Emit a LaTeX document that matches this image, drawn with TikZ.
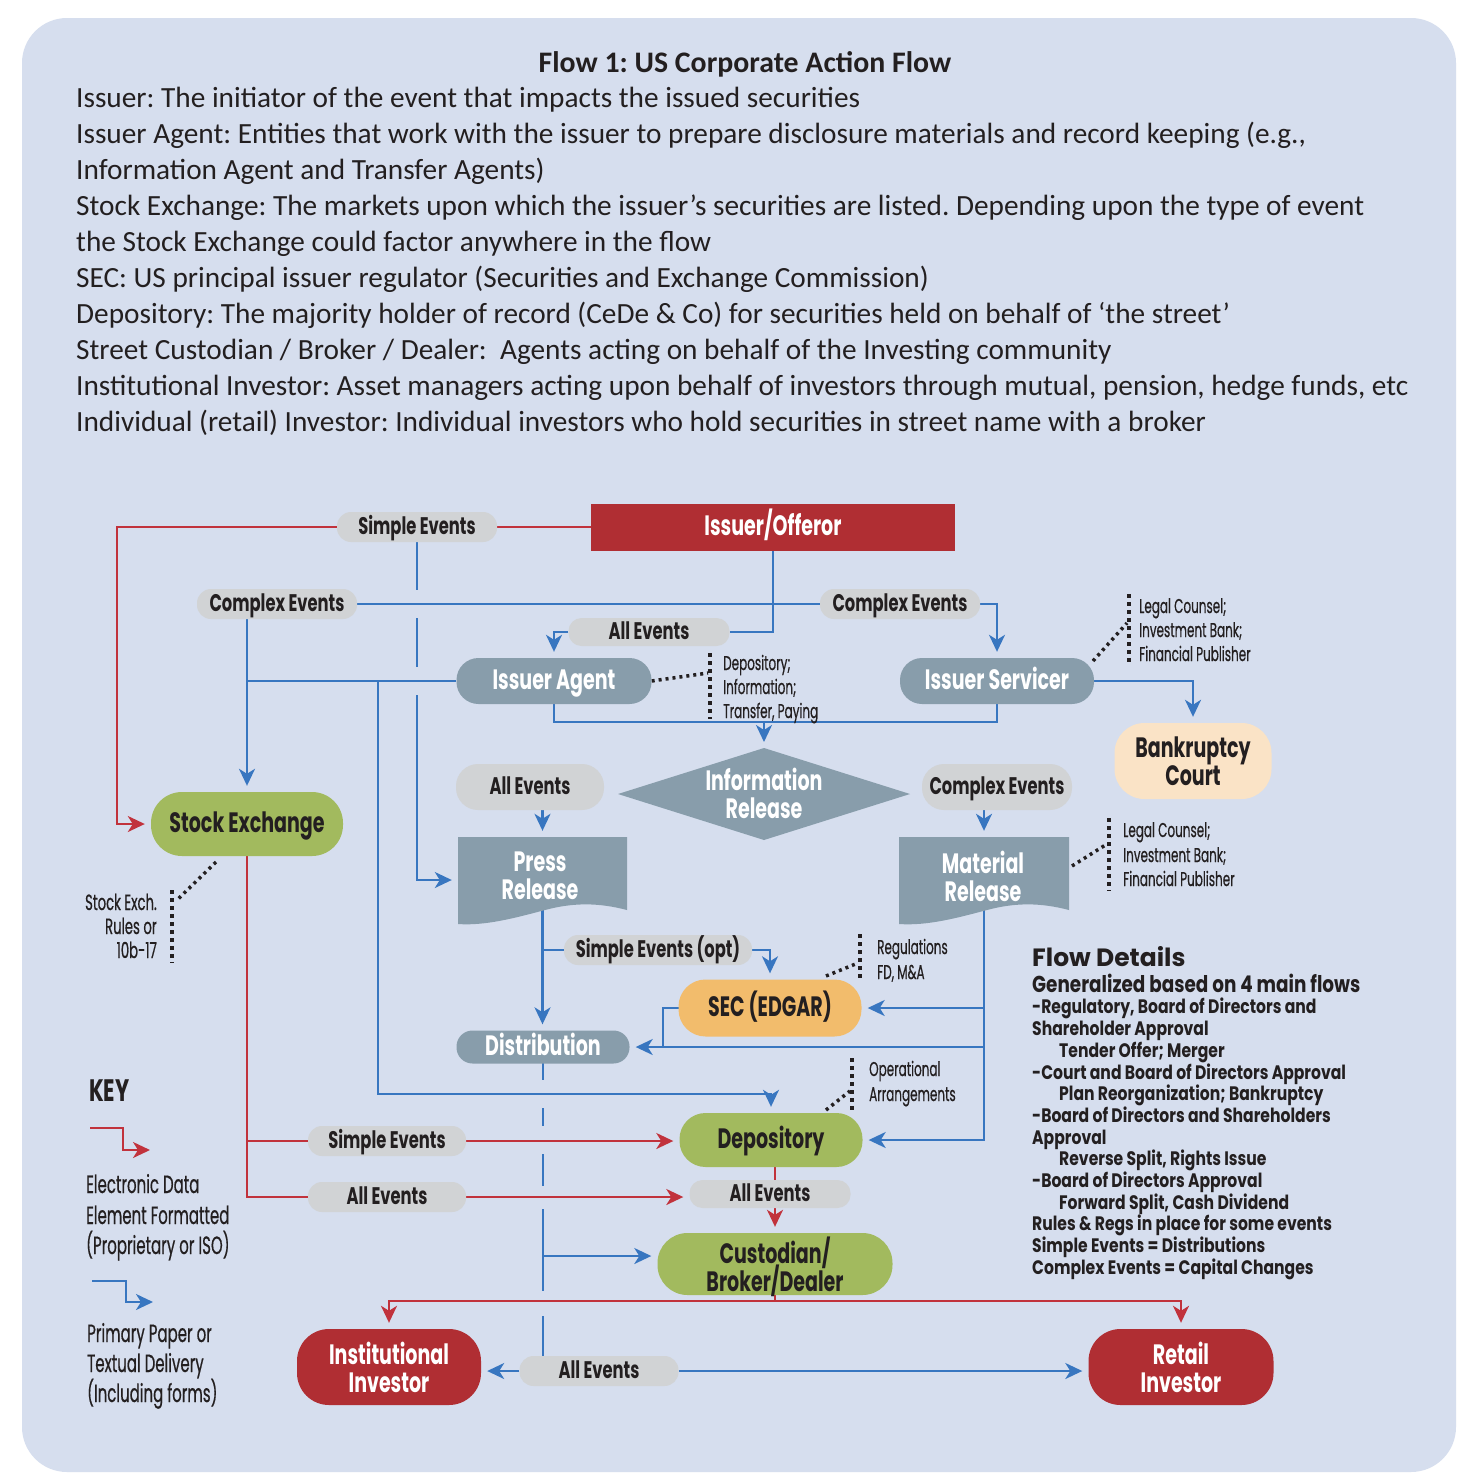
\documentclass[tikz,border=0pt]{standalone}
\usepackage{fontspec}
\setmainfont{Carlito}
\newfontfamily\condfont[FakeStretch=0.68]{Poppins}
\newfontfamily\narrowfont[FakeStretch=0.6,FakeBold=0.5]{Poppins}
\newfontfamily\detfont[FakeStretch=0.8]{Poppins}
\newfontfamily\popfont{Poppins}
\usetikzlibrary{arrows.meta,calc}
\definecolor{bgcol}{HTML}{D6DEEE}
\definecolor{issred}{HTML}{B02E33}
\definecolor{redln}{HTML}{C1323C}
\definecolor{blueln}{HTML}{3876C0}
\definecolor{pillgray}{HTML}{D1D3D5}
\definecolor{slate}{HTML}{889DAB}
\definecolor{grn}{HTML}{A2BA5E}
\definecolor{orng}{HTML}{F2BC6C}
\definecolor{peach}{HTML}{FAE3C6}
\definecolor{ink}{HTML}{231F20}
\pgfdeclarelayer{back}
\pgfdeclarelayer{lines}
\pgfsetlayers{back,lines,main}
\tikzset{
  pl/.style n args={3}{rectangle, inner sep=0pt, minimum width=#1, minimum height=#2, rounded corners=#3},
  evt/.style={fill=pillgray, text=ink, text height=18pt, text depth=3.6pt, font=\condfont\bfseries\fontsize{24}{24}\selectfont},
  big/.style={align=center, text depth=0pt, font=\condfont\bfseries\fontsize{28}{28}\selectfont},
  one/.style={text height=21pt, text depth=4.2pt},
  wt/.style={big, text=white},
  bk/.style={big, text=ink},
  note/.style={anchor=base west, inner sep=0pt, font=\narrowfont\fontsize{20}{24}\selectfont, text=ink},
  keytx/.style={anchor=base west, inner sep=0pt, font=\narrowfont\fontsize{25}{30}\selectfont, text=ink},
  hdr/.style={anchor=base west, inner sep=0pt, font=\fontsize{29.3}{29.3}\selectfont, text=ink},
  det/.style={anchor=base west, inner sep=0pt, font=\detfont\bfseries\fontsize{19.5}{20}\selectfont, text=ink},
  bl/.style={draw=blueln, line width=2.3pt},
  rl/.style={draw=redln, line width=2.3pt},
  tip/.style={-{Stealth[length=17pt,width=16pt,inset=5pt]}, shorten >=6pt},
  dots/.style={draw=ink, line width=4pt, dash pattern=on 4pt off 4pt},
  ddots/.style={draw=ink, line width=3.5pt, dash pattern=on 3pt off 4pt},
  mask/.style={draw=bgcol, line width=9pt},
}
\begin{document}
\frenchspacing
\begin{tikzpicture}[x=1pt,y=-1pt]
\useasboundingbox (0,0) rectangle (1470,1484);
\begin{pgfonlayer}{back}
\fill[white] (0,0) rectangle (1470,1484);
\fill[bgcol, rounded corners=45pt] (22,18) rectangle (1456,1472);
\end{pgfonlayer}

% ---------- header text ----------
\node[anchor=base, inner sep=0pt, font=\bfseries\fontsize{29.8}{29.8}\selectfont, text=ink] (title) at (745,72) {Flow 1: US Corporate Action Flow};
\node[hdr] (h1) at (76,107) {Issuer: The initiator of the event that impacts the issued securities};
\node[hdr] (h2) at (76,143) {Issuer Agent: Entities that work with the issuer to prepare disclosure materials and record keeping (e.g.,};
\node[hdr] (h3) at (76,179) {Information Agent and Transfer Agents)};
\node[hdr] (h4) at (76,215) {Stock Exchange: The markets upon which the issuer’s securities are listed. Depending upon the type of event};
\node[hdr] (h5) at (76,251) {the Stock Exchange could factor anywhere in the flow};
\node[hdr] (h6) at (76,287) {SEC: US principal issuer regulator (Securities and Exchange Commission)};
\node[hdr] (h7) at (76,323) {Depository: The majority holder of record (CeDe \& Co) for securities held on behalf of ‘the street’};
\node[hdr] (h8) at (76,359) {Street Custodian / Broker / Dealer:\ \ Agents acting on behalf of the Investing community};
\node[hdr] (h9) at (76,395) {Institutional Investor: Asset managers acting upon behalf of investors through mutual, pension, hedge funds, etc};
\node[hdr] (h10) at (76,431) {Individual (retail) Investor: Individual investors who hold securities in street name with a broker};

% ---------- nodes ----------
\node[pl={364pt}{47pt}{0pt}, fill=issred, wt, one] (issuer) at (773,527) {Issuer/Offeror};
\node[pl={160pt}{30pt}{14pt}, evt] (simpleT) at (417,527) {Simple Events};
\node[pl={160pt}{30pt}{14pt}, evt] (complexL) at (277,604) {Complex Events};
\node[pl={160pt}{30pt}{14pt}, evt] (complexR) at (900,604) {Complex Events};
\node[pl={161pt}{28pt}{13pt}, evt] (allT) at (649,632) {All Events};
\node[pl={195pt}{46pt}{22pt}, fill=slate, wt, one] (agent) at (554,681) {Issuer Agent};
\node[pl={194pt}{46pt}{22pt}, fill=slate, wt, one] (servicer) at (997,681) {Issuer Servicer};
\node[pl={157pt}{76pt}{30pt}, fill=peach, bk] (bank) at (1193,761) {Bankruptcy\\Court};

\fill[slate] (618,794) -- (764,748) -- (910,794) -- (764,840) -- cycle;
\coordinate (infotop) at (764,748);
\node[wt] (info) at (764,793) {Information\\Release};

\node[pl={148pt}{46pt}{22pt}, evt] (allM) at (530,787) {All Events};
\node[pl={150pt}{46pt}{22pt}, evt] (complexM) at (997,787) {Complex Events};

\fill[slate] (458,837) -- (627,837) -- (627,910) .. controls (600,903) and (575,902) .. (545,910) .. controls (515,918) and (485,926) .. (458,924) -- cycle;
\node[pl={169pt}{86pt}{0pt}] (press) at (542.5,880) {};
\node[wt] (presstxt) at (540,876) {Press\\Release};
\fill[slate] (899,837) -- (1069,837) -- (1069,910) .. controls (1042,903) and (1017,902) .. (987,910) .. controls (957,918) and (927,926) .. (899,924) -- cycle;
\node[pl={170pt}{86pt}{0pt}] (material) at (984,880) {};
\node[wt] (materialtxt) at (983,876) {Material\\Release};

\node[pl={192pt}{64pt}{31pt}, fill=grn, bk, one] (stock) at (247,824) {Stock Exchange};
\node[pl={188pt}{30pt}{14pt}, evt] (simpleOpt) at (658,950) {Simple Events (opt)};
\node[pl={183pt}{57pt}{27pt}, fill=orng, bk, one] (sec) at (770,1008) {SEC (EDGAR)};
\node[pl={173pt}{33pt}{16pt}, fill=slate, wt, one] (dist) at (543,1047) {Distribution};
\node[pl={183pt}{54pt}{26pt}, fill=grn, bk, one] (dep) at (771,1140) {Depository};
\node[pl={158pt}{30pt}{14pt}, evt] (simpleB) at (387,1141) {Simple Events};
\node[pl={158pt}{30pt}{14pt}, evt] (allBL) at (387,1197) {All Events};
\node[pl={161pt}{28pt}{13pt}, evt] (allBR) at (770,1194) {All Events};
\node[pl={235pt}{62pt}{30pt}, fill=grn, bk] (cust) at (775,1264) {Custodian/\\[-5pt]Broker/Dealer};
\node[pl={184pt}{76pt}{32pt}, fill=issred, wt] (inst) at (389,1367) {Institutional\\Investor};
\node[pl={185pt}{76pt}{32pt}, fill=issred, wt] (retail) at (1181,1367) {Retail\\Investor};
\node[pl={159pt}{30pt}{14pt}, evt] (allBot) at (599,1371) {All Events};

% ---------- notes ----------
\node[note] (an1) at (723,670) {Depository;};
\node[note] (an2) at (723,694) {Information;};
\node[note] (an3) at (723,718) {Transfer, Paying};
\node[note] (sn1) at (1139,613) {Legal Counsel;};
\node[note] (sn2) at (1139,637) {Investment Bank;};
\node[note] (sn3) at (1139,661) {Financial Publisher};
\node[note] (mn1) at (1123,837) {Legal Counsel;};
\node[note] (mn2) at (1123,862) {Investment Bank;};
\node[note] (mn3) at (1123,886) {Financial Publisher};
\node[note] (rn1) at (877,954) {Regulations};
\node[note] (rn2) at (877,979) {FD, M\&A};
\node[note] (on1) at (869,1076) {Operational};
\node[note] (on2) at (869,1101) {Arrangements};
\node[note, anchor=base east, font=\narrowfont\fontsize{22}{22}\selectfont] (xn1) at (157,910) {Stock Exch.};
\node[note, anchor=base east, font=\narrowfont\fontsize{22}{22}\selectfont] (xn2) at (157,934) {Rules or};
\node[note, anchor=base east, font=\narrowfont\fontsize{22}{22}\selectfont] (xn3) at (157,958) {10b-17};

% ---------- key ----------
\node[anchor=base west, inner sep=0pt, font=\condfont\bfseries\fontsize{31}{31}\selectfont, text=ink] (keyt) at (89,1101) {KEY};
\node[keytx] (k1) at (86,1193) {Electronic Data};
\node[keytx] (k2) at (86,1224) {Element Formatted};
\node[keytx] (k3) at (86,1254) {(Proprietary or ISO)};
\node[keytx] (k4) at (87,1342) {Primary Paper or};
\node[keytx] (k5) at (87,1372) {Textual Delivery};
\node[keytx] (k6) at (87,1402) {(Including forms)};
\coordinate (kr0) at (90,1128); \coordinate (kr1) at (150,1150);
\coordinate (kb0) at (92,1281); \coordinate (kb1) at (153,1302);

% ---------- flow details ----------
\node[anchor=base west, inner sep=0pt, font=\popfont\bfseries\fontsize{25}{25}\selectfont, text=ink] (fd0) at (1032,966) {Flow Details};
\node[det, font=\detfont\bfseries\fontsize{23}{23}\selectfont] (fd1) at (1032,992) {Generalized based on 4 main flows};
\node[det] (fd2) at (1032,1013) {-Regulatory, Board of Directors and};
\node[det] (fd3) at (1032,1035) {Shareholder Approval};
\node[det] (fd4) at (1059,1057) {Tender Offer; Merger};
\node[det] (fd5) at (1032,1079) {-Court and Board of Directors Approval};
\node[det] (fd6) at (1059,1100) {Plan Reorganization; Bankruptcy};
\node[det] (fd7) at (1032,1122) {-Board of Directors and Shareholders};
\node[det] (fd8) at (1032,1144) {Approval};
\node[det] (fd9) at (1059,1165) {Reverse Split, Rights Issue};
\node[det] (fd10) at (1032,1187) {-Board of Directors Approval};
\node[det] (fd11) at (1059,1209) {Forward Split, Cash Dividend};
\node[det] (fd12) at (1032,1230) {Rules \& Regs in place for some events};
\node[det] (fd13) at (1032,1252) {Simple Events = Distributions};
\node[det] (fd14) at (1032,1274) {Complex Events = Capital Changes};

% ---------- connectors ----------
\begin{pgfonlayer}{lines}
% lines that get broken at crossings
\draw[bl,tip] (simpleT.south) |- (press.west);
\draw[bl] (dist.center) -- (dist.center |- allBot.north);
\draw[mask] (417,590) -- (417,618);
\draw[mask] (417,667) -- (417,695);
\draw[mask] (543,1080) -- (543,1108);
\draw[mask] (543,1126) -- (543,1154);
\draw[mask] (543,1186) -- (543,1209);
\draw[mask] (543,1291) -- (543,1316);

% red
\coordinate (rc) at (117,824);
\draw[rl] (issuer.west) -- (simpleT.east);
\draw[rl,tip] (simpleT.west) -| (rc) -- (stock.west);
\draw[rl] (stock.center) |- (allBL.west);
\draw[rl] (stock.center |- simpleB.west) -- (simpleB.west);
\draw[rl,tip] (simpleB.east) -- (simpleB.east -| dep.west);
\draw[rl,tip] (allBL.east) -- (allBL.east -| allBR.west);
\draw[rl,tip] (cust.north |- dep.center) -- (cust.north);
\coordinate (rj) at (775,1301);
\draw[rl,tip] (cust.center) -- (rj) -| (inst.north);
\draw[rl,tip] (rj) -| (retail.north);

% blue
\draw[bl] (complexL.east) -- (complexR.west);
\draw[bl,tip] (complexR.east) -| (servicer.north);
\draw[bl] (issuer.center) |- (allT.east);
\draw[bl,tip] (allT.west) -| (agent.north);
\draw[bl,tip] (complexL.south -| stock.north) -- (stock.north);
\draw[bl] (agent.west) -- (agent.west -| stock.north);
\coordinate (j1) at (378,681);
\coordinate (j2) at (378,1094);
\draw[bl,tip] (j1) -- (j2) -| (dep.north);
\draw[bl,tip] (servicer.east) -| (bank.north);
\draw[bl] (agent.center) -- ++(0,41) -| (servicer.center);
\coordinate (bus) at (764,722);
\draw[bl,tip] (bus) -- (infotop);
\draw[bl,tip] (press.north |- allM.south) -- (press.north);
\draw[bl,tip] (material.north |- complexM.south) -- (material.north);
\draw[bl,tip] (press.center) -- (press.center |- dist.north);
\draw[bl] (press.center |- simpleOpt.west) -- (simpleOpt.west);
\draw[bl,tip] (simpleOpt.east) -| (sec.north);
\draw[bl,tip] (material.center) |- (dep.east);
\draw[bl,tip] (material.center |- sec.east) -- (sec.east);
\draw[bl,tip] (material.center |- dist.east) -- (dist.east);
\coordinate (j3) at (663,1047);
\draw[bl] (sec.center) -| (j3);
\coordinate (jc) at (543,1256);
\draw[bl,tip] (jc) -- (jc -| cust.west);
\draw[bl,tip] (allBot.west) -- (allBot.west -| inst.east);
\draw[bl,tip] (allBot.east) -- (allBot.east -| retail.west);

% key arrows
\draw[rl,tip,shorten >=0pt] (kr0) -- (123,1128) |- (kr1);
\draw[bl,tip,shorten >=0pt] (kb0) -- (126,1281) |- (kb1);

% dotted leaders
\draw[ddots] (agent.east) -- (708,673);
\draw[dots] (710,653) -- (710,719);
\draw[ddots] (1093,661) -- (1127,623);
\draw[dots] (1129,594) -- (1129,664);
\draw[ddots] (1072,866) -- (1107,844);
\draw[dots] (1109,818) -- (1109,891);
\draw[ddots] (826,976) -- (858,963);
\draw[dots] (860,934) -- (860,978);
\draw[ddots] (826,1110) -- (850,1091);
\draw[dots] (852,1058) -- (852,1110);
\draw[ddots] (216,862) -- (176,901);
\draw[dots] (172,890) -- (172,963);
\end{pgfonlayer}
\end{tikzpicture}
\end{document}
